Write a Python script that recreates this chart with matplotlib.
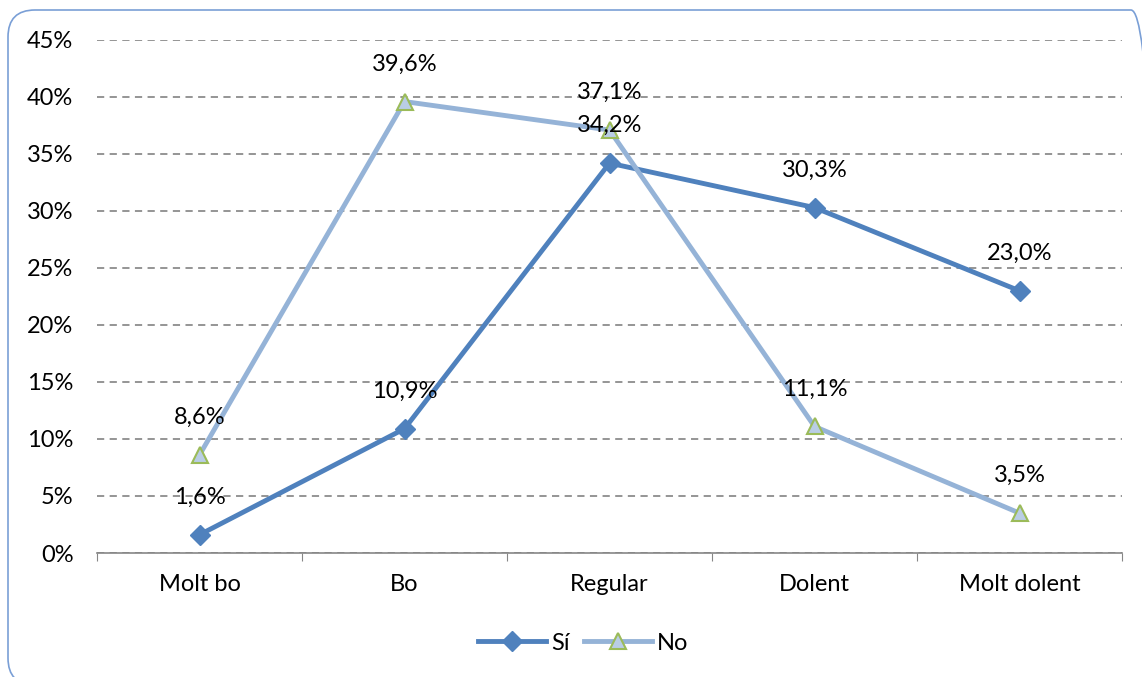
import matplotlib
matplotlib.use("Agg")
import matplotlib.pyplot as plt
from matplotlib.patches import FancyBboxPatch
from matplotlib.transforms import IdentityTransform
from matplotlib.ticker import FixedLocator, NullFormatter

categories = ["Molt bo", "Bo", "Regular", "Dolent", "Molt dolent"]
si_values = [1.6, 10.9, 34.2, 30.3, 23.0]
no_values = [8.6, 39.6, 37.1, 11.1, 3.5]

plt.rcParams['font.family'] = ['Lato', 'DejaVu Sans']
FS = 17

W, H = 1142, 677
fig = plt.figure(figsize=(W / 100, H / 100), dpi=100)
ax = fig.add_axes([97 / W, 1 - 553 / H, (1122 - 97) / W, (553 - 40) / H])

# rounded outer border (pixel coords), right and bottom run off the canvas
border = FancyBboxPatch((8, -8), 1150, 675,
                        boxstyle="round,pad=0,rounding_size=27",
                        transform=IdentityTransform(), facecolor="none",
                        edgecolor="#7a9fd6", linewidth=1.2, clip_on=False)
fig.patches.append(border)

x = [i + 0.5 for i in range(len(categories))]

ax.plot(x, si_values, color="#4f81bd", linewidth=3.5, marker="D", markersize=10,
        markerfacecolor="#4f81bd", markeredgecolor="#4f81bd", label="Sí", zorder=3)
ax.plot(x, no_values, color="#95b3d7", linewidth=3.5, marker="^", markersize=12,
        markerfacecolor="#b9cde5", markeredgecolor="#9bbb59", markeredgewidth=1.5,
        label="No", zorder=3)

for xi, v in zip(x, si_values):
    ax.annotate(f"{v:.1f}%".replace(".", ","), (xi, v), xytext=(0, 27),
                textcoords="offset points", ha="center", va="center", fontsize=FS,
                zorder=4)
for xi, v in zip(x, no_values):
    ax.annotate(f"{v:.1f}%".replace(".", ","), (xi, v), xytext=(0, 27),
                textcoords="offset points", ha="center", va="center", fontsize=FS,
                zorder=4)

ax.set_xlim(0, 5)
ax.set_ylim(0, 45)
ax.set_yticks(range(0, 50, 5))
ax.set_yticklabels([f"{v}%" for v in range(0, 50, 5)], fontsize=FS)
ax.yaxis.grid(True, linestyle=(0, (4, 3)), color="#8c8c8c", linewidth=1.3)
ax.set_axisbelow(True)

ax.xaxis.set_major_locator(FixedLocator(range(6)))
ax.xaxis.set_major_formatter(NullFormatter())
ax.xaxis.set_minor_locator(FixedLocator(x))
ax.set_xticklabels(categories, minor=True, fontsize=FS)
ax.tick_params(axis="x", which="major", length=6, color="#868686", direction="out")
ax.tick_params(axis="x", which="minor", length=0, pad=15)
ax.tick_params(axis="y", length=0, pad=17)

for s in ["top", "right", "left"]:
    ax.spines[s].set_visible(False)
ax.spines["bottom"].set_color("#868686")
ax.spines["bottom"].set_linewidth(1.2)

fig.legend(loc="center", bbox_to_anchor=(583 / W, 1 - 643 / H), ncol=2,
           frameon=False, fontsize=FS, handlelength=2.9, columnspacing=0.6,
           handletextpad=0.2)

fig.savefig("out.png", dpi=100)
